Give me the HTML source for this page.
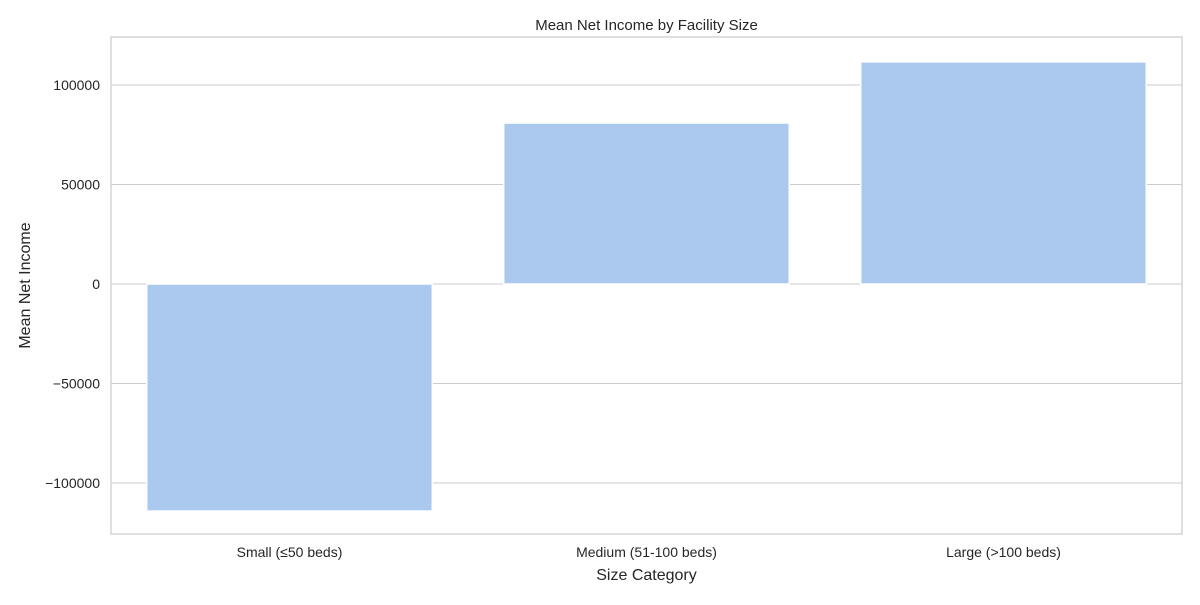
<!DOCTYPE html>
<html><head><meta charset="utf-8"><style>
body{margin:0;background:#fff;font-family:"Liberation Sans","DejaVu Sans",sans-serif;}
svg text{font-family:"Liberation Sans","DejaVu Sans",sans-serif;fill:#262626;}
</style></head><body>
<svg id="chart" width="1200" height="600"></svg>
<script>
const categories = ["Small (\u226450 beds)", "Medium (51-100 beds)", "Large (>100 beds)"];
const values = [-114100, 80900, 111600];
const yTicks = [-100000, -50000, 0, 50000, 100000];
const tickLabels = ["\u2212100000", "\u221250000", "0", "50000", "100000"];

const NS = "http://www.w3.org/2000/svg";
const svg = document.getElementById("chart");
const L = 111, R = 1182, T = 37, B = 534;
const yMin = -125630, yMax = 124120;
const y = v => B - (v - yMin) / (yMax - yMin) * (B - T);
const band = (R - L) / categories.length;
const x = i => L + band * (i + 0.5);
function mk(tag, attrs, text) {
  const e = document.createElementNS(NS, tag);
  for (const k in attrs) e.setAttribute(k, attrs[k]);
  if (text !== undefined) e.textContent = text;
  svg.appendChild(e);
  return e;
}
yTicks.forEach((t, i) => {
  const g = mk("line", {x1: L, x2: R, y1: y(t), y2: y(t), stroke: "#cccccc", "stroke-width": 1});
  
  
  const lb = mk("text", {x: L - 11, y: y(t) + 5, "text-anchor": "end", "font-size": 14}, tickLabels[i]);
  
  
});
values.forEach((v, i) => {
  const w = band * 0.8;
  const top = Math.min(y(v), y(0)), h = Math.abs(y(v) - y(0));
  const r = mk("rect", {x: x(i) - w / 2, y: top, width: w, height: h, fill: "#abc9ee", stroke: "#fff", "stroke-width": 1.5});
  
  
  const lb = mk("text", {x: x(i), y: B + 23, "text-anchor": "middle", "font-size": 14}, categories[i]);
  
  
});
const fr = mk("rect", {x: L, y: T, width: R - L, height: B - T, fill: "none", stroke: "#cccccc", "stroke-width": 1.25});


const ti = mk("text", {x: (L + R) / 2, y: 30, "text-anchor": "middle", "font-size": 15}, "Mean Net Income by Facility Size");


const xt = mk("text", {x: (L + R) / 2, y: 580, "text-anchor": "middle", "font-size": 16}, "Size Category");


const yt = mk("text", {x: 30, y: (T + B) / 2, "text-anchor": "middle", "font-size": 16, transform: "rotate(-90 30 " + (T + B) / 2 + ")"}, "Mean Net Income");


</script>
</body></html>
